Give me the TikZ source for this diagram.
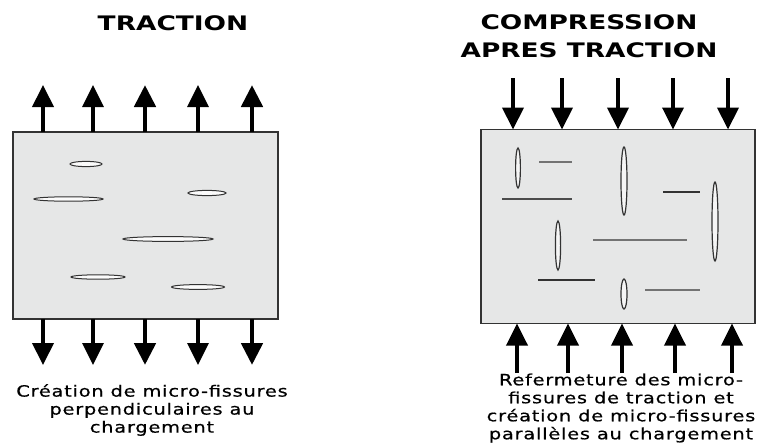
\documentclass[tikz,border=0pt]{standalone}
\usepackage{fontspec}
\usetikzlibrary{arrows.meta}
\newfontfamily\titlefont[FakeStretch=1.32]{DejaVu Sans Bold}
\newfontfamily\capfont[FakeStretch=1.25,LetterSpace=5,FakeBold=0.6]{DejaVu Sans}
\definecolor{specimen}{HTML}{E6E7E7}
\definecolor{edge}{HTML}{333333}
\tikzset{
  block/.style={draw=edge, line width=1.6pt, fill=specimen, inner sep=0pt, outer sep=0pt, anchor=north west},
  force/.style={line width=3.8pt, -{Triangle[width=21pt,length=22pt]}},
  title/.style={font=\titlefont\fontsize{20}{28}\selectfont, align=center},
  caption/.style={font=\capfont\fontsize{15.5}{18}\selectfont, align=center, inner sep=0pt},
  crack/.style={draw=black!80, line width=1pt, fill=white!85!specimen},
  slit/.style={draw=black!80, line width=1.2pt, fill=white!60!specimen},
  trace/.style={line width=1.2pt, draw=black!55},
  darktrace/.style={line width=1.4pt, draw=black!80}
}
\begin{document}
\begin{tikzpicture}[x=1pt,y=-1pt]
\useasboundingbox (0,0) rectangle (758,445);
\fill[white] (0,0) rectangle (758,445);

% ---------- traction ----------
\node[title] (tL) at (173,23) {TRACTION};
\node[block, minimum width=265pt, minimum height=187pt] (L) at (13,132) {};

% cracks opened perpendicular to the load
\draw[crack] (86,164) ellipse [x radius=16, y radius=2.6];
\draw[crack] (68.5,199) ellipse [x radius=34.5, y radius=2.2];
\draw[crack] (207,193) ellipse [x radius=19, y radius=2.6];
\draw[crack] (168,239) ellipse [x radius=45, y radius=2.4];
\draw[crack] (98,277) ellipse [x radius=27, y radius=2.2];
\draw[crack] (198,287) ellipse [x radius=26.5, y radius=2.4];

% pulling forces
\foreach \i/\x/\w in {1/43/4, 2/93/3.4, 3/145/4.8, 4/198/3.4, 5/252/4.8}{
  \coordinate (lt\i) at (\x,85);
  \coordinate (lb\i) at (\x,365);
  \draw[force, line width=\w pt] (lt\i |- L.north) -- (lt\i);
  \draw[force, line width=\w pt] (lb\i |- L.south) -- (lb\i);
}

\node[caption] (cL) at (152,410) {Création de micro-fissures\\perpendiculaires au\\chargement};

% ---------- compression after traction ----------
\node[title] (tR) at (589,36) {COMPRESSION\\APRES TRACTION};
\node[block, minimum width=274pt, minimum height=194pt] (R) at (481,129.5) {};

% closed tension cracks (traces)
\draw[trace] (539,162) -- (572,162);
\draw[trace, draw=black!70] (502,199) -- (572,199);
\draw[darktrace] (663,192) -- (700,192);
\draw[trace] (593,240) -- (687,240);
\draw[darktrace] (538,280) -- (595,280);
\draw[trace, line width=1.6pt] (645,290) -- (700,290);

% new cracks parallel to the load
\draw[slit] (518,168) ellipse [x radius=2.4, y radius=20];
\draw[slit] (624,181) ellipse [x radius=3, y radius=34];
\draw[slit] (715,221.5) ellipse [x radius=3, y radius=39.5];
\draw[slit] (558,245.5) ellipse [x radius=2.6, y radius=24.5];
\draw[slit] (624,294) ellipse [x radius=3, y radius=15];

% compressive forces
\foreach \i/\x/\w in {1/513/4.2, 2/562/4.2, 3/618/4.2, 4/673/3.6, 5/728/4.2}{
  \coordinate (rt\i) at (\x,78);
  \draw[force, line width=\w pt] (rt\i) -- (rt\i |- R.north);
}
\foreach \i/\x in {1/517, 2/568, 3/622, 4/675, 5/732}{
  \coordinate (rb\i) at (\x,373);
  \draw[force, line width=3.6pt] (rb\i) -- (rb\i |- R.south);
}

\node[caption] (cR) at (621,408) {Refermeture des micro-\\fissures de traction et\\création de micro-fissures\\parallèles au chargement};
\end{tikzpicture}
\end{document}
